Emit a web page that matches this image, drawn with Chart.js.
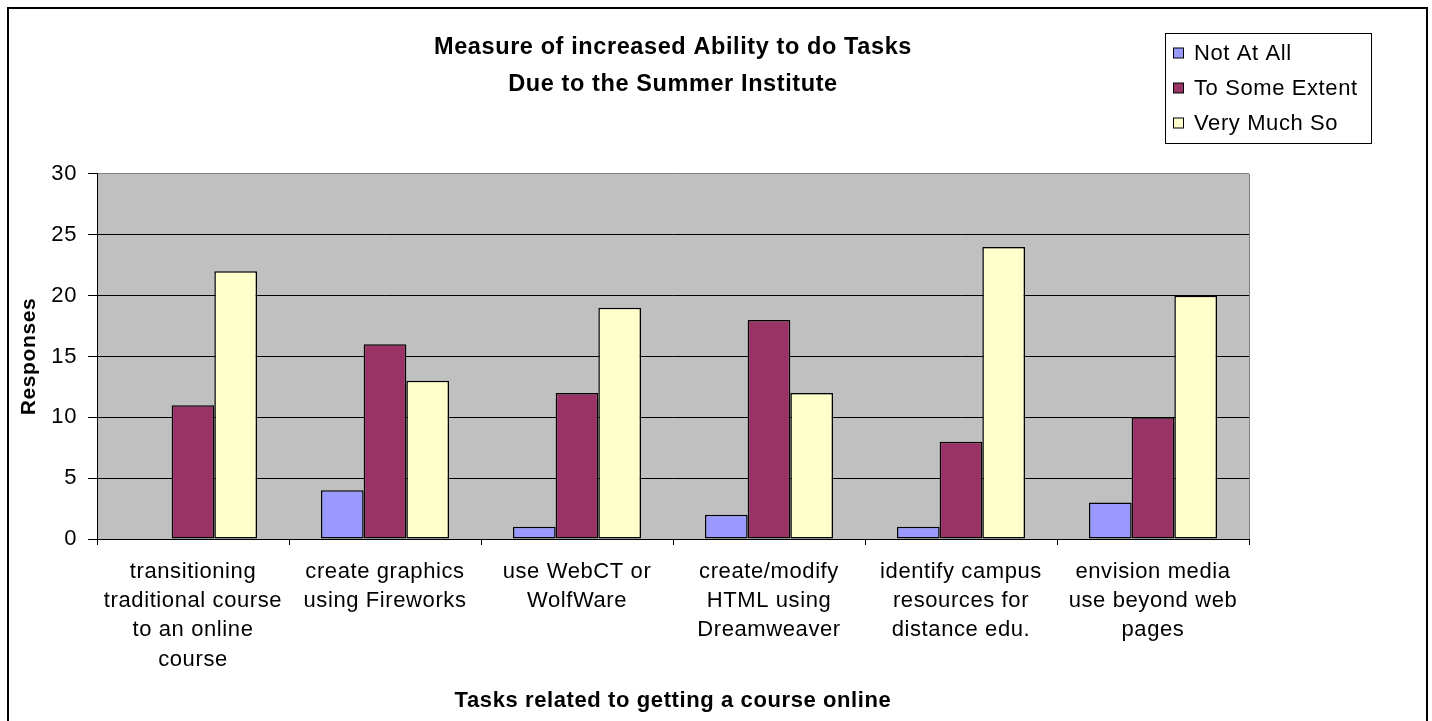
<!DOCTYPE html>
<html>
<head>
<meta charset="utf-8">
<script src="https://cdn.jsdelivr.net/npm/chart.js@4.4.0/dist/chart.umd.min.js"></script>
<style>
  html, body { margin: 0; padding: 0; background: #fff; overflow: hidden; }
  #chart { display: block; }
</style>
</head>
<body>
<canvas id="chart" width="1432" height="721" style="width:1432px;height:721px"></canvas>
<script>
// ---- data ----
const categories = [
  ['transitioning', 'traditional course', 'to an online', 'course'],
  ['create graphics', 'using Fireworks'],
  ['use WebCT or', 'WolfWare'],
  ['create/modify', 'HTML using', 'Dreamweaver'],
  ['identify campus', 'resources for', 'distance edu.'],
  ['envision media', 'use beyond web', 'pages']
];
const seriesNames = ['Not At All', 'To Some Extent', 'Very Much So'];
const notAtAll     = [0, 4, 1, 2, 1, 3];
const toSomeExtent = [11, 16, 12, 18, 8, 10];
const veryMuchSo   = [22, 13, 19, 12, 24, 20];
const yTicks = [0, 5, 10, 15, 20, 25, 30];

const chartTitle = ['Measure of increased Ability to do Tasks', 'Due to the Summer Institute'];
const xTitle = 'Tasks related to getting a course online';
const yTitle = 'Responses';

// ---- styling ----
const FONT = "'Liberation Sans', Arial, Helvetica, sans-serif";
const seriesColors = ['#9999FF', '#993366', '#FFFFCC'];
const PLOT_BG = '#C0C0C0';
const TEXT_SPACING = '0.6px';

// gray plot area, outer frame and the boxed legend
const decorations = {
  id: 'decorations',
  beforeUpdate(chart) { chart.ctx.letterSpacing = TEXT_SPACING; },
  beforeDraw(chart) {
    const { ctx, chartArea: a } = chart;
    ctx.letterSpacing = TEXT_SPACING;
    ctx.save();
    ctx.fillStyle = '#fff';
    ctx.fillRect(0, 0, chart.width, chart.height);
    ctx.fillStyle = PLOT_BG;
    ctx.fillRect(a.left, a.top, a.right - a.left, a.bottom - a.top);
    ctx.restore();
  },
  afterDraw(chart) {
    const { ctx, chartArea: a } = chart;
    ctx.save();
    // right edge of the plot area
    ctx.strokeStyle = '#808080';
    ctx.lineWidth = 1;
    ctx.beginPath();
    ctx.moveTo(a.right + 0.5, a.top);
    ctx.lineTo(a.right + 0.5, a.bottom);
    ctx.stroke();

    // outer frame (open at the bottom edge of the window)
    ctx.strokeStyle = '#000';
    ctx.lineWidth = 2;
    ctx.strokeRect(8, 8, 1419, 760);

    // legend
    const bx = 1165, by = 33, bw = 206, bh = 110;
    ctx.fillStyle = '#fff';
    ctx.fillRect(bx, by, bw, bh);
    ctx.strokeStyle = '#000';
    ctx.lineWidth = 1;
    ctx.strokeRect(bx + 0.5, by + 0.5, bw, bh);
    ctx.font = '22px ' + FONT;
    ctx.textBaseline = 'middle';
    ctx.textAlign = 'left';
    chart.data.datasets.forEach((ds, i) => {
      const cy = 53 + i * 35;
      ctx.fillStyle = ds.backgroundColor;
      ctx.fillRect(1173.5, cy - 5, 10, 10);
      ctx.strokeStyle = '#000';
      ctx.lineWidth = 1;
      ctx.strokeRect(1173.5, cy - 5, 10, 10);
      ctx.fillStyle = '#000';
      ctx.fillText(ds.label, 1194, cy + 1);
    });
    ctx.restore();
  }
};

const datasets = [notAtAll, toSomeExtent, veryMuchSo].map((values, i) => ({
  label: seriesNames[i],
  data: values,
  backgroundColor: seriesColors[i],
  borderColor: '#000',
  borderWidth: 1.5,
  borderSkipped: false,
  categoryPercentage: 0.667,
  barPercentage: 1.0
}));

new Chart(document.getElementById('chart'), {
  type: 'bar',
  data: { labels: categories, datasets },
  plugins: [decorations],
  options: {
    responsive: false,
    animation: false,
    devicePixelRatio: 1,
    layout: { padding: { left: 6, right: 183, top: 0, bottom: 0 } },
    plugins: {
      legend: { display: false },
      tooltip: { enabled: false },
      title: {
        display: true,
        text: chartTitle,
        fullSize: false,
        color: '#000',
        font: { family: FONT, size: 23.5, weight: 'bold', lineHeight: 1.574 },
        padding: { top: 29, bottom: 71 }
      }
    },
    scales: {
      x: {
        grid: { offset: true, drawOnChartArea: false, drawTicks: true, tickLength: 6, color: '#000' },
        border: { color: '#000', width: 1 },
        ticks: {
          color: '#000', padding: 11.8, maxRotation: 0, autoSkip: false,
          font: { family: FONT, size: 22, lineHeight: 1.336 }
        },
        title: {
          display: true, text: xTitle, color: '#000',
          font: { family: FONT, size: 22, weight: 'bold', lineHeight: 1.2 },
          padding: { top: 7, bottom: 7 }
        },
        afterFit(scale) { scale.height = 182; }
      },
      y: {
        min: 0, max: 30,
        afterBuildTicks(scale) { scale.ticks = yTicks.map(v => ({ value: v })); },
        grid: {
          color: ctx => (ctx.tick && ctx.tick.value === 30 ? '#808080' : '#000'),
          tickColor: '#000', tickLength: 9, lineWidth: 1
        },
        border: { color: '#000', width: 1 },
        ticks: {
          color: '#000', padding: 11,
          font: { family: FONT, size: 22 }
        },
        title: {
          display: true, text: yTitle, color: '#000',
          font: { family: FONT, size: 21, weight: 'bold', lineHeight: 1.2 },
          padding: { top: 11, bottom: 11 }
        },
        afterFit(scale) { scale.width = 91; }
      }
    }
  }
});
</script>
</body>
</html>
